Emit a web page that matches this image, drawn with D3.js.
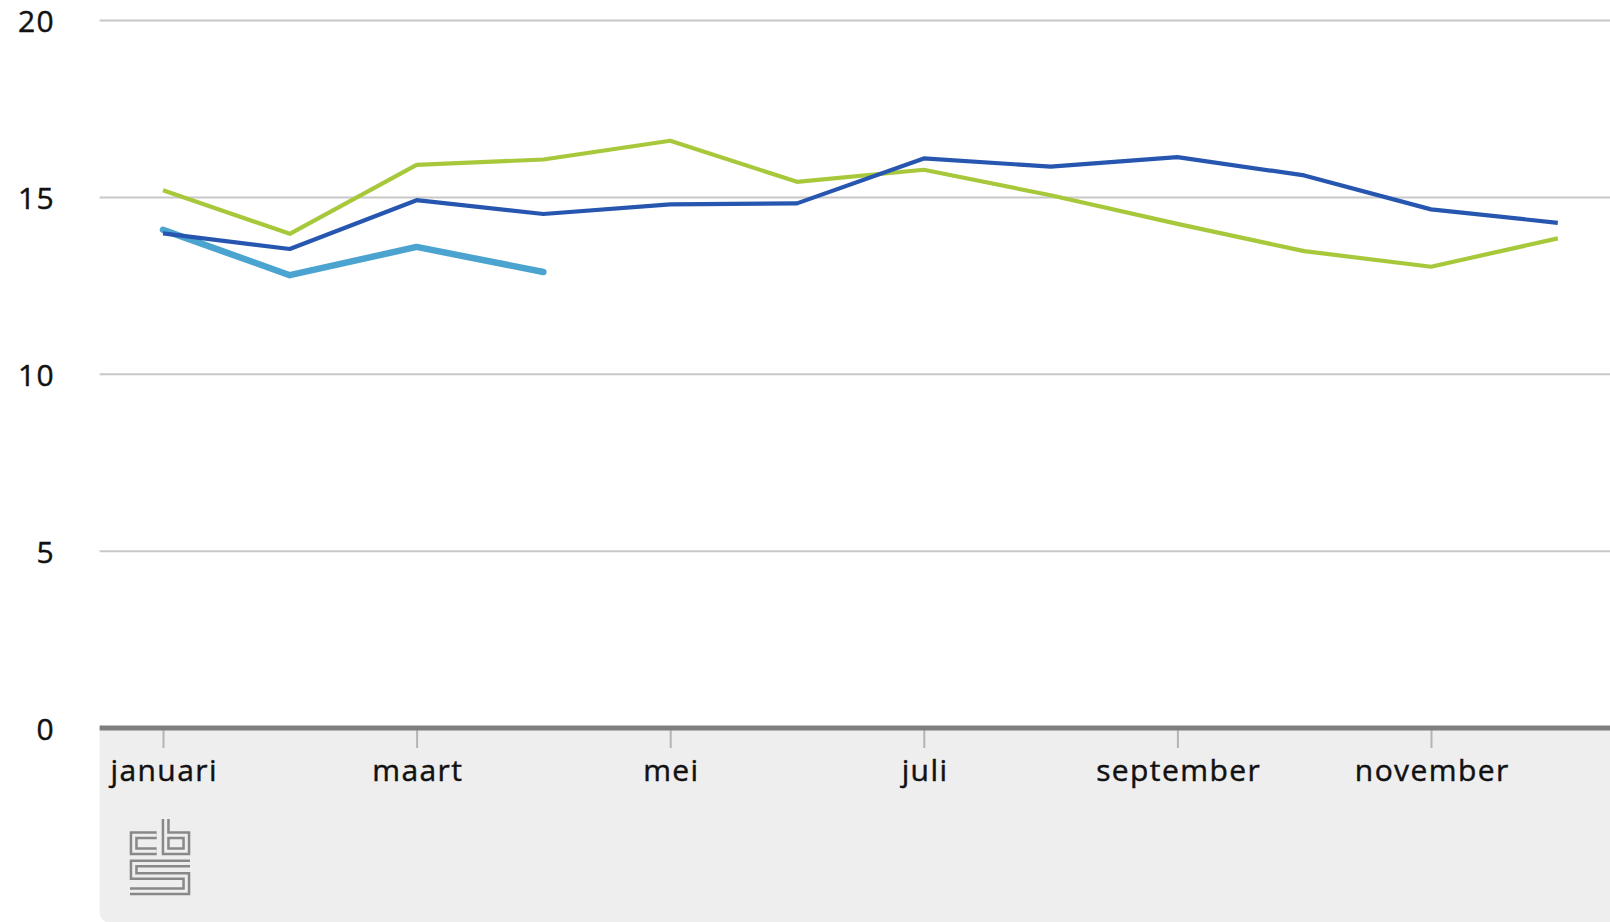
<!DOCTYPE html>
<html>
<head>
<meta charset="utf-8">
<script src="https://cdn.jsdelivr.net/npm/d3@7"></script>
<style>
  html, body { margin: 0; padding: 0; background: #ffffff; overflow: hidden; }
  svg { display: block; }
  text { font-family: "Open Sans", "Noto Sans", sans-serif; fill: #111; }
</style>
</head>
<body>
<svg id="chart" width="1610" height="922"></svg>
<script>
// ---- data ----
const months = ["januari","februari","maart","april","mei","juni","juli","augustus","september","oktober","november","december"];
const tickMonths = ["januari","maart","mei","juli","september","november"];
const yTicks = [0, 5, 10, 15, 20];
const seriesGreen = [15.2, 13.97, 15.92, 16.07, 16.6, 15.44, 15.78, 15.06, 14.25, 13.48, 13.04, 13.84];
const seriesDarkBlue = [13.98, 13.54, 14.92, 14.53, 14.8, 14.83, 16.1, 15.87, 16.14, 15.62, 14.66, 14.28];
const seriesLightBlue = [14.08, 12.8, 13.6, 12.89];

// ---- layout ----
const svg = d3.select("#chart");
const left = 99.6, step = 126.8;
const x = d3.scaleBand().domain(months).range([left, left + step * months.length]).paddingInner(0).paddingOuter(0);
const xc = m => x(m) + x.bandwidth() / 2;
const y = d3.scaleLinear().domain([0, 20]).range([728, 20.5]);

const labelStyle = sel => sel
  .attr("font-size", 30)
  .attr("fill", "#111")
  .attr("stroke", "#111").attr("stroke-width", 0.45)
  .attr("letter-spacing", "1.4px")
  .style("font-family", "'Open Sans', 'Noto Sans', sans-serif");

// footer panel
svg.append("path")
  .attr("d", `M${left},728 H1610 V922 H${left + 10} Q${left},922 ${left},912 Z`)
  .attr("fill", "#eeeeee");

// grid lines
svg.append("g").selectAll("line").data(yTicks.filter(d => d > 0)).join("line")
  .attr("x1", left).attr("x2", 1610)
  .attr("y1", d => y(d)).attr("y2", d => y(d))
  .attr("stroke", "#c8c8c8").attr("stroke-width", 2);

// y labels
svg.append("g").selectAll("text").data(yTicks).join("text")
  .attr("x", 55).attr("y", d => y(d))
  .attr("text-anchor", "end").attr("dominant-baseline", "central")
  .call(labelStyle)
  .text(d => d);

// x axis ticks
const xAxis = d3.axisBottom(d3.scalePoint().domain(months).range([xc(months[0]), xc(months[11])]))
  .tickValues(tickMonths).tickSize(18).tickPadding(6);
const gx = svg.append("g").attr("transform", "translate(0,730)").call(xAxis);
gx.select(".domain").remove();
gx.selectAll(".tick line").attr("stroke", "#b4b4b4").attr("stroke-width", 2);
gx.selectAll(".tick text").call(labelStyle).attr("dy", "0.9em").attr("dx", "0.7px");

// axis line
svg.append("line").attr("x1", left).attr("x2", 1610).attr("y1", y(0)).attr("y2", y(0))
  .attr("stroke", "#7f7f7f").attr("stroke-width", 5);

// lines
const line = d3.line().x((d, i) => xc(months[i])).y(d => y(d));
svg.append("path").datum(seriesLightBlue).attr("d", line)
  .attr("fill", "none").attr("stroke", "#4ba4cf").attr("stroke-width", 6.5)
  .attr("stroke-linecap", "round").attr("stroke-linejoin", "round");
svg.append("path").datum(seriesGreen).attr("d", line)
  .attr("fill", "none").attr("stroke", "#a8c83c").attr("stroke-width", 4.2)
  .attr("stroke-linejoin", "round");
svg.append("path").datum(seriesDarkBlue).attr("d", line)
  .attr("fill", "none").attr("stroke", "#2656b0").attr("stroke-width", 4.2)
  .attr("stroke-linejoin", "round");

// CBS logo (outlined maze style)
const logo = svg.append("g");
const logoPaths = [
  "M156.7,835.3 H133.7 V851.3 H156.7",
  "M165.7,819 V851.3 H186.3 V835.3 H165.7",
  "M190,863.6 H133.7 V876 H186.3 V891.3 H130"
];
logoPaths.forEach(p => {
  logo.append("path").attr("d", p).attr("fill", "none")
    .attr("stroke", "#888888").attr("stroke-width", 8).attr("stroke-linejoin", "miter");
});
logoPaths.forEach(p => {
  logo.append("path").attr("d", p).attr("fill", "none")
    .attr("stroke", "#eeeeee").attr("stroke-width", 3).attr("stroke-linejoin", "miter");
});
</script>
</body>
</html>
